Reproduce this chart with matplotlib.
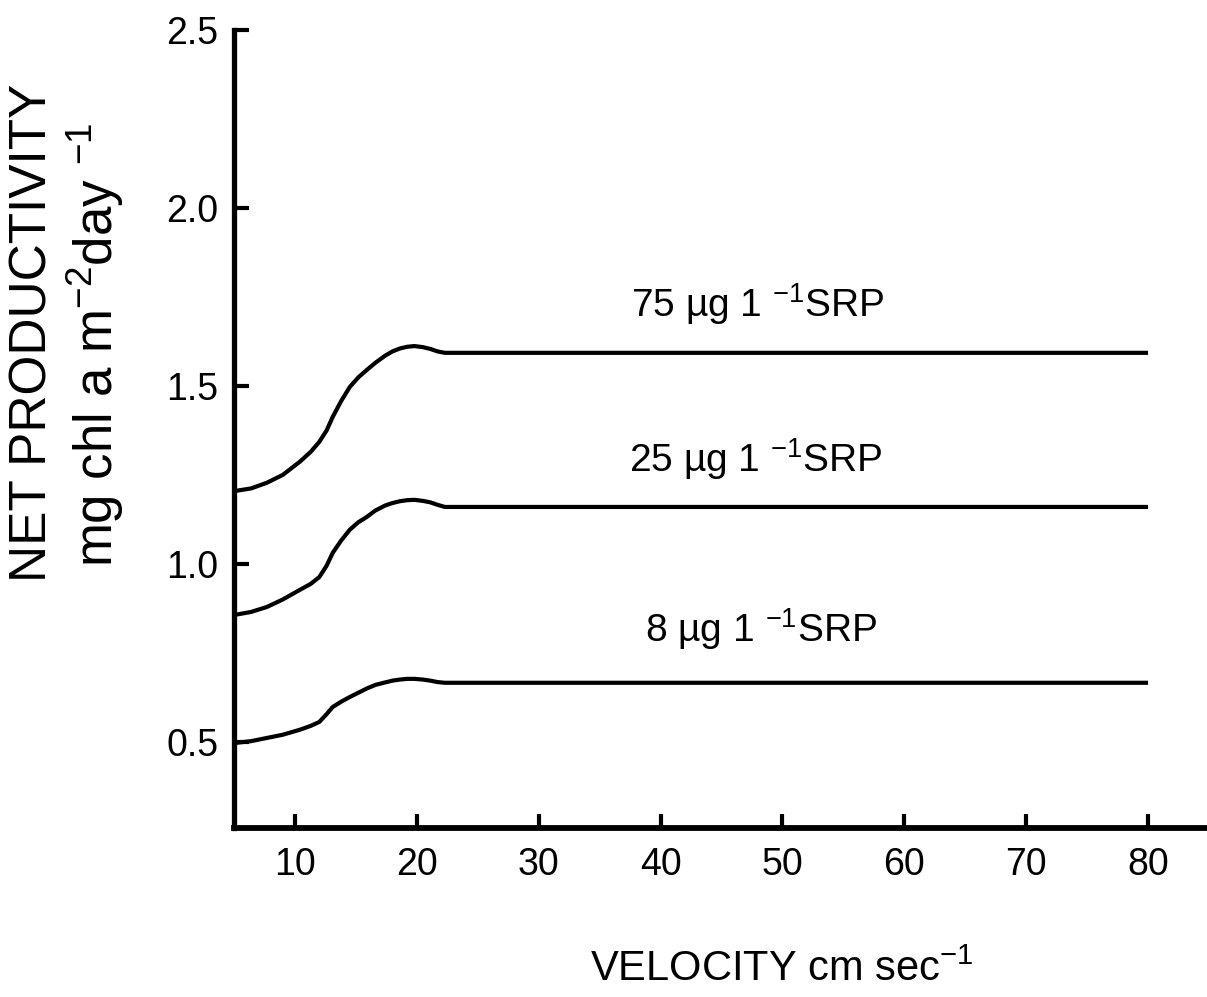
import matplotlib
matplotlib.use("Agg")
import matplotlib.pyplot as plt

plt.rcParams['font.family'] = ['Liberation Sans', 'DejaVu Sans']
plt.rcParams['mathtext.fontset'] = 'custom'
plt.rcParams['mathtext.rm'] = 'Liberation Sans'
plt.rcParams['mathtext.it'] = 'Liberation Sans:italic'
plt.rcParams['mathtext.bf'] = 'Liberation Sans:bold'

# velocity (cm/sec) knots
velocity = [5.1, 6.4, 7.7, 9.0, 10.4, 11.3, 12.0, 12.6, 13.1, 13.8, 14.5, 15.2,
            15.9, 16.6, 17.4, 18.0, 18.6, 19.2, 19.8, 20.5, 21.1, 21.7, 22.3, 80]
srp75 = [1.205, 1.212, 1.228, 1.250, 1.287, 1.315, 1.343, 1.375, 1.413, 1.458, 1.497, 1.524,
         1.545, 1.565, 1.585, 1.597, 1.605, 1.610, 1.612, 1.609, 1.604, 1.597, 1.593, 1.593]
srp25 = [0.857, 0.865, 0.879, 0.900, 0.927, 0.944, 0.963, 0.995, 1.031, 1.066, 1.096, 1.117,
         1.132, 1.150, 1.164, 1.171, 1.176, 1.179, 1.180, 1.177, 1.173, 1.166, 1.160, 1.160]
srp8 = [0.497, 0.502, 0.511, 0.520, 0.534, 0.545, 0.556, 0.578, 0.598, 0.613, 0.626, 0.638,
        0.650, 0.660, 0.667, 0.672, 0.675, 0.677, 0.677, 0.675, 0.672, 0.668, 0.666, 0.666]

series_labels = [r"75 µg 1 $^{-1}$SRP", r"25 µg 1 $^{-1}$SRP", r"8 µg 1 $^{-1}$SRP"]
label_pos = [(37.6, 1.694), (37.4, 1.258), (38.7, 0.781)]

xticks = [10, 20, 30, 40, 50, 60, 70, 80]
yticks = [0.5, 1.0, 1.5, 2.0, 2.5]
ytick_labels = ["0.5", "1.0", "1.5", "2.0", "2.5"]

fig = plt.figure(figsize=(12.07, 9.97), dpi=100)
ax = fig.add_axes([234/1207, (997-828)/997, (1209-234)/1207, (828-30)/997])

for ys in (srp75, srp25, srp8):
    ax.plot(velocity, ys, color='black', lw=3.0, solid_capstyle='butt',
            solid_joinstyle='round')

for lab, (lx, ly) in zip(series_labels, label_pos):
    ax.text(lx, ly, lab, fontsize=28, ha='left', va='baseline')

ax.set_xlim(5, 85)
ax.set_ylim(0.258, 2.5)
ax.set_xticks(xticks)
ax.set_xticklabels([str(t) for t in xticks])
ax.set_yticks(yticks)
ax.set_yticklabels(ytick_labels)

for s in ('top', 'right'):
    ax.spines[s].set_visible(False)
ax.spines['left'].set_linewidth(3.8)
ax.spines['bottom'].set_linewidth(4.2)
ax.spines['left'].set_capstyle('projecting')
ax.spines['bottom'].set_capstyle('projecting')

ax.tick_params(axis='x', direction='in', length=10, width=3, labelsize=27, pad=14)
ax.tick_params(axis='y', direction='in', length=11, width=3, labelsize=27, pad=11)

fig.text(33/1207, (997-333)/997, "NET PRODUCTIVITY", rotation=90,
         fontsize=37, ha='center', va='center')
fig.text(95/1207, (997-345)/997, r"mg chl a m$^{-2}$day $^{-1}$", rotation=90,
         fontsize=38, ha='center', va='center')
fig.text(782/1207, (997-970)/997, r"VELOCITY cm sec$^{-1}$",
         fontsize=30, ha='center', va='center')

fig.savefig("out.png", dpi=100)
